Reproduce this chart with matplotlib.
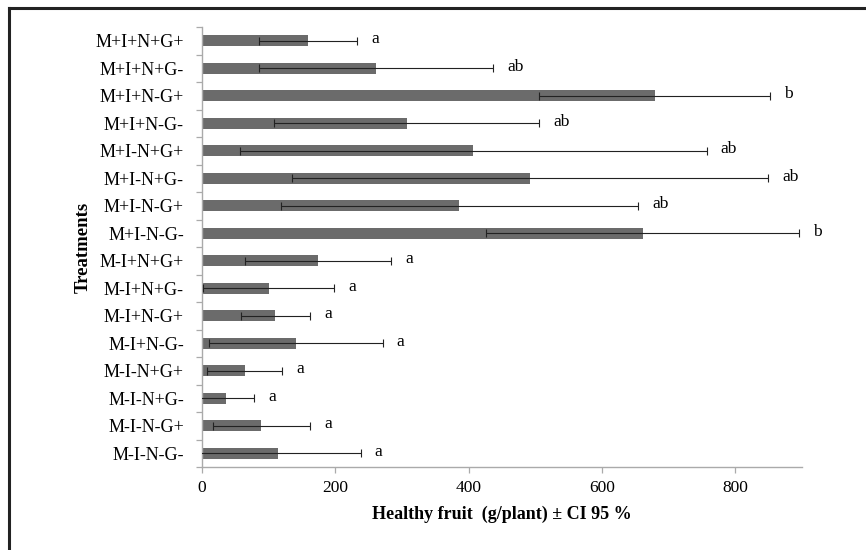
import numpy as np
import matplotlib.pyplot as plt
from matplotlib.lines import Line2D

plt.rcParams['font.family'] = ['Liberation Serif', 'DejaVu Serif']

## Data (top to bottom)
treatments = ['M+I+N+G+', 'M+I+N+G-', 'M+I+N-G+', 'M+I+N-G-',
              'M+I-N+G+', 'M+I-N+G-', 'M+I-N-G+', 'M+I-N-G-',
              'M-I+N+G+', 'M-I+N+G-', 'M-I+N-G+', 'M-I+N-G-',
              'M-I-N+G+', 'M-I-N+G-', 'M-I-N-G+', 'M-I-N-G-']
fruit = [159, 261, 679, 307, 407, 492, 386, 661,
         174, 100, 110, 141, 64, 36, 89, 114]
ci95 = [74, 176, 173, 199, 350, 357, 268, 235,
        110, 98, 52, 130, 56, 42, 73, 124]
letters = ['a', 'ab', 'b', 'ab', 'ab', 'ab', 'ab', 'b',
           'a', 'a', 'a', 'a', 'a', 'a', 'a', 'a']

W, H = 866, 550
fig = plt.figure(figsize=(W/100, H/100), dpi=100)
ax = fig.add_axes([202/W, (H-467)/H, 600/W, 440/H])

y = np.arange(len(treatments))
ax.barh(y, fruit, height=0.4, color='#6b6b6b', zorder=2)
ax.errorbar(fruit, y, xerr=ci95, fmt='none', ecolor='#222222',
            elinewidth=0.8, capsize=3.2, capthick=0.8, zorder=3)

for yi, v, e, l in zip(y, fruit, ci95, letters):
    ax.annotate(l, xy=(v + e, yi), xytext=(10, 1), textcoords='offset points',
                fontsize=12.5, va='center', ha='left')

ax.set_xlim(0, 900)
ax.set_ylim(len(treatments) - 0.5, -0.5)
ax.set_xticks([0, 200, 400, 600, 800])
ax.set_yticks(y)
ax.set_yticklabels(treatments)
ax.set_yticks(np.arange(-0.5, len(treatments), 1), minor=True)
ax.tick_params(axis='y', which='major', length=0, pad=13, labelsize=13)
ax.tick_params(axis='y', which='minor', length=4, color='#aaaaaa', width=0.9)
ax.tick_params(axis='x', length=4, color='#aaaaaa', width=0.9, labelsize=12.5, pad=5)

for s in ['top', 'right']:
    ax.spines[s].set_visible(False)
for s in ['left', 'bottom']:
    ax.spines[s].set_color('#aaaaaa')
    ax.spines[s].set_linewidth(1.0)

ax.set_xlabel('Healthy fruit  (g/plant) ± CI 95 %', fontsize=13,
              fontweight='bold', labelpad=7)
ax.set_ylabel('Treatments', fontsize=13.5, fontweight='bold', labelpad=3)

# outer frame (top and left edges only)
fig.add_artist(Line2D([9/W, 1.0], [(H-8)/H, (H-8)/H], transform=fig.transFigure,
                      color='#222222', linewidth=2.2))
fig.add_artist(Line2D([9/W, 9/W], [0, (H-8)/H], transform=fig.transFigure,
                      color='#222222', linewidth=2.2))

plt.savefig('out.png', dpi=100)
